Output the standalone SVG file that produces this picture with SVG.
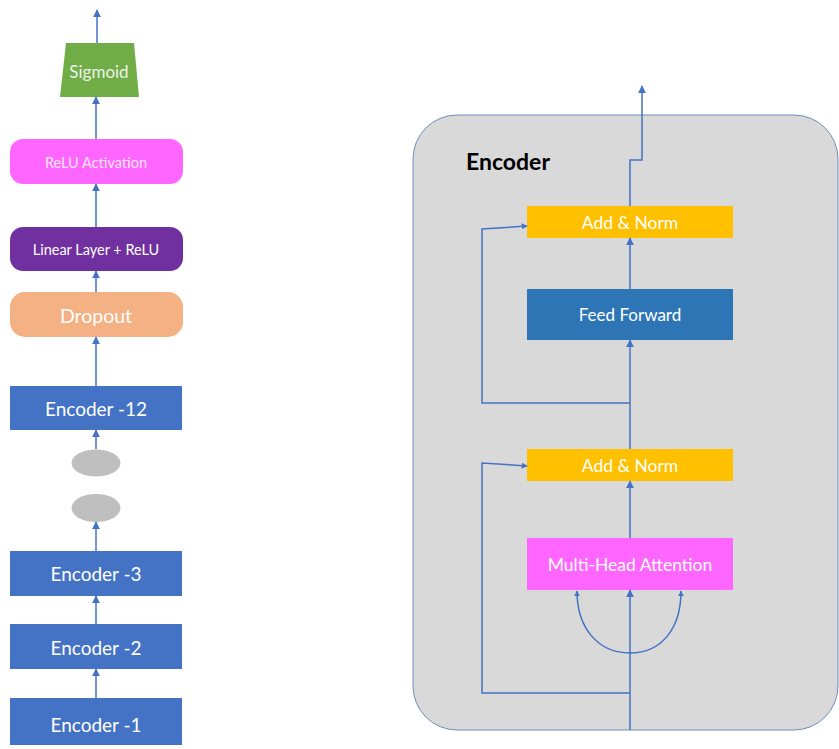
<svg xmlns="http://www.w3.org/2000/svg" width="839" height="749" viewBox="0 0 839 749">
<defs>
<marker id="ah" viewBox="0 0 10 10" refX="9" refY="5" markerWidth="8" markerHeight="8" markerUnits="userSpaceOnUse" orient="auto">
<path d="M0,0 L10,5 L0,10 Z" fill="#4472C4"/>
</marker>
<marker id="ahs" viewBox="0 0 10 10" refX="9" refY="5" markerWidth="6" markerHeight="6" markerUnits="userSpaceOnUse" orient="auto">
<path d="M0,0 L10,5 L0,10 Z" fill="#4472C4"/>
</marker>
<style>
text{font-family:Lato,"Open Sans","Liberation Sans",sans-serif;fill:#FFFFFF;text-anchor:middle;dominant-baseline:central}
.c{fill:none;stroke:#4472C4;stroke-width:1.5}
.enc{fill:#4472C4}
</style>
</defs>
<rect width="839" height="749" fill="#FFFFFF"/>
<g id="encoder-container">
<rect x="413" y="115" width="425" height="615" rx="44" ry="44" fill="#D9D9D9" stroke="#6C8EBF" stroke-width="1"/>
<text x="508" y="161" style="fill:#000000;font-weight:bold;font-size:23px">Encoder</text>
</g>
<g id="sigmoid">
<path d="M66,43 L134,43 L139,97 L60,97 Z" fill="#70AD47"/>
<text x="99" y="71" style="font-size:17px;fill:#EEF3E8">Sigmoid</text>
</g>
<g id="relu-activation">
<rect x="10" y="139" width="173" height="45" rx="13" fill="#FF66FF"/>
<text x="96" y="162" style="font-size:14.5px;fill:#FBE4FB">ReLU Activation</text>
</g>
<g id="linear-layer">
<rect x="10" y="227" width="173" height="44" rx="13" fill="#7030A0"/>
<text x="96" y="249" style="font-size:14.5px">Linear Layer + ReLU</text>
</g>
<g id="dropout">
<rect x="10" y="292" width="173" height="45" rx="15" fill="#F4B183"/>
<text x="96" y="315" style="font-size:19.5px">Dropout</text>
</g>
<g id="encoder-12">
<rect class="enc" x="10" y="386" width="172" height="44"/>
<text x="96" y="408" style="font-size:19px">Encoder -12</text>
</g>
<g id="ellipsis-1">
<ellipse cx="96" cy="463" rx="24.5" ry="13.5" fill="#BFBFBF"/>
</g>
<g id="ellipsis-2">
<ellipse cx="96" cy="508" rx="24.5" ry="14" fill="#BFBFBF"/>
</g>
<g id="encoder-3">
<rect class="enc" x="10" y="551" width="172" height="45"/>
<text x="96" y="573" style="font-size:19px">Encoder -3</text>
</g>
<g id="encoder-2">
<rect class="enc" x="10" y="624" width="172" height="45"/>
<text x="96" y="647" style="font-size:19px">Encoder -2</text>
</g>
<g id="encoder-1">
<rect class="enc" x="10" y="698" width="172" height="47"/>
<text x="96" y="724" style="font-size:19px">Encoder -1</text>
</g>
<g id="add-norm-top">
<rect x="527" y="206" width="206" height="32" fill="#FFC000"/>
<text x="630" y="222" style="font-size:17.5px">Add &amp; Norm</text>
</g>
<g id="feed-forward">
<rect x="527" y="289" width="206" height="51" fill="#2E75B6"/>
<text x="630" y="314" style="font-size:17px">Feed Forward</text>
</g>
<g id="add-norm-bottom">
<rect x="527" y="449" width="206" height="32" fill="#FFC000"/>
<text x="630" y="465" style="font-size:17.5px">Add &amp; Norm</text>
</g>
<g id="multi-head-attention">
<rect x="527" y="538" width="206" height="52" fill="#FF66FF"/>
<text x="630" y="564" style="font-size:17.5px">Multi-Head Attention</text>
</g>
<g id="connectors">
<path class="c" d="M97,43 V10" marker-end="url(#ah)"/>
<path class="c" d="M96,139 V97" marker-end="url(#ah)"/>
<path class="c" d="M96,227 V184" marker-end="url(#ah)"/>
<path class="c" d="M96,292 V271" marker-end="url(#ah)"/>
<path class="c" d="M96,386 V337" marker-end="url(#ah)"/>
<path class="c" d="M96,449 V430" marker-end="url(#ah)"/>
<path class="c" d="M96,551 V522" marker-end="url(#ah)"/>
<path class="c" d="M96,624 V596" marker-end="url(#ah)"/>
<path class="c" d="M96,698 V669" marker-end="url(#ah)"/>
<path class="c" d="M630,206 V160 H642 V86" marker-end="url(#ah)"/>
<path class="c" d="M630,289 V238" marker-end="url(#ah)"/>
<path class="c" d="M630,449 V340" marker-end="url(#ah)"/>
<path class="c" d="M630,538 V481" marker-end="url(#ah)"/>
<path class="c" d="M630,730 V590" marker-end="url(#ah)"/>
<path class="c" d="M630,403 H482 V229 L527,226" marker-end="url(#ahs)"/>
<path class="c" d="M630,693 H482 V463 L527,466" marker-end="url(#ahs)"/>
<path class="c" d="M630,653 C598,653 577,628 577,591" marker-end="url(#ahs)"/>
<path class="c" d="M630,653 C662,653 681,628 681,591" marker-end="url(#ahs)"/>
</g>
</svg>
